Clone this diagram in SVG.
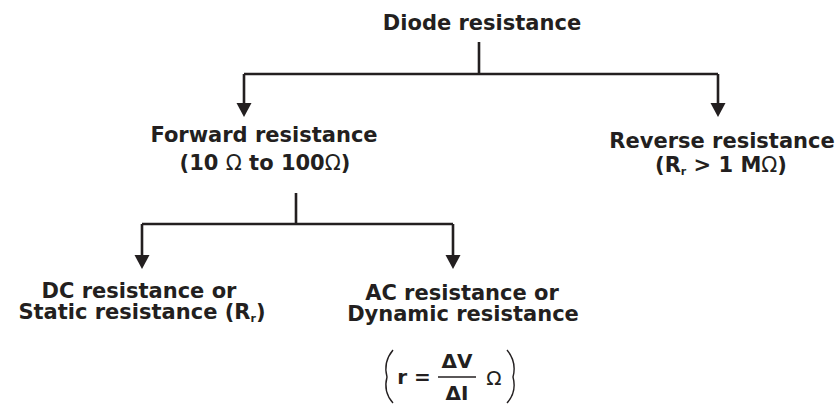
<svg xmlns="http://www.w3.org/2000/svg" width="839" height="405" viewBox="0 0 839 405">
<style>
.t{font-family:"DejaVu Sans","Liberation Sans",sans-serif;font-weight:bold;font-size:21px;fill:#231f20;text-anchor:middle}
.om{font-weight:normal}
.sub{font-size:11px}
.ln{fill:none;stroke:#231f20;stroke-width:2.6}
.ah{fill:#231f20}
.pr{fill:none;stroke:#231f20;stroke-width:1.4}
</style>
<defs>
<polygon id="arr" class="ah" points="-7.5,-14 7.5,-14 0,0"/>
</defs>
<rect width="839" height="405" fill="#fff"/>
<g id="connectors">
<path class="ln" d="M479,42V74M244,74H718M244,74V104M718,74V104"/>
<use href="#arr" x="244" y="117"/>
<use href="#arr" x="718" y="117"/>
<path class="ln" d="M296,193V224M142,224H453M142,224V256M453,224V256"/>
<use href="#arr" x="142" y="269"/>
<use href="#arr" x="453" y="269"/>
</g>
<g id="diode">
<text class="t" x="482" y="30">Diode resistance</text>
</g>
<g id="forward">
<text class="t" x="264" y="142">Forward resistance</text>
<text class="t" x="265" y="170">(10 <tspan class="om">Ω</tspan> to 100<tspan class="om">Ω</tspan>)</text>
</g>
<g id="reverse">
<text class="t" x="722" y="148">Reverse resistance</text>
<text class="t" x="721" y="172">(R<tspan class="sub" dy="3">r</tspan><tspan dy="-3"> &gt; 1 M</tspan><tspan class="om">Ω</tspan>)</text>
</g>
<g id="dc">
<text class="t" x="139" y="298">DC resistance or</text>
<text class="t" x="142" y="319">Static resistance (R<tspan class="sub" dy="3">r</tspan><tspan dy="-3">)</tspan></text>
</g>
<g id="ac">
<text class="t" x="462" y="300">AC resistance or</text>
<text class="t" x="463" y="321">Dynamic resistance</text>
<path class="pr" d="M393,350Q383,362 387,377Q383,392 393,403"/>
<path class="pr" d="M507,350Q517,362 513,377Q517,392 507,403"/>
<text class="t" x="414" y="384" style="font-size:20px">r =</text>
<text class="t" x="457" y="368" style="font-size:20px">ΔV</text>
<line x1="438" y1="377" x2="476" y2="377" stroke="#231f20" stroke-width="1.6"/>
<text class="t" x="457" y="400" style="font-size:20px">ΔI</text>
<text class="t om" x="494" y="385" style="font-size:20px">Ω</text>
</g>
</svg>
